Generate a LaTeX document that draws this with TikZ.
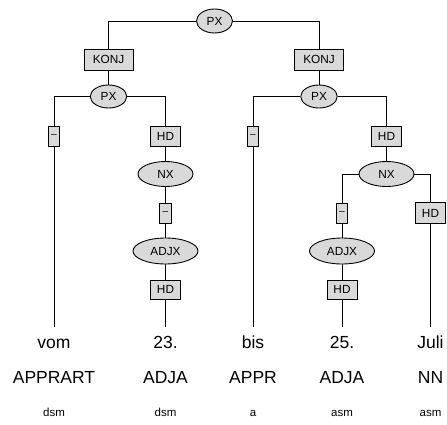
\documentclass[tikz,border=0pt]{standalone}
\usepackage{fontspec}
\setmainfont{Liberation Sans}
\usetikzlibrary{shapes.geometric}
\definecolor{nodegray}{HTML}{D9D9D9}
\begin{document}
\begin{tikzpicture}[x=1pt,y=1pt,
  cat/.style={ellipse,draw,fill=nodegray,line width=0.9pt,inner sep=0pt,font=\fontsize{11.8}{14}\selectfont},
  edgelab/.style={rectangle,draw,fill=nodegray,line width=0.9pt,inner sep=0pt,minimum height=20pt,font=\fontsize{11.8}{14}\selectfont},
  dashlab/.style={edgelab,minimum width=11.5pt,font=\fontsize{10}{12}\selectfont},
  word/.style={anchor=base,inner sep=0pt,font=\fontsize{17.5}{20}\selectfont},
  morph/.style={anchor=base,inner sep=0pt,font=\fontsize{11.5}{13}\selectfont},
  conn/.style={line width=0.9pt}]
\useasboundingbox (0,0) rectangle (447,424);
% categories
\node[cat,minimum width=36pt,minimum height=24pt] (px0) at (214.5,403) {PX};
\node[cat,minimum width=36.5pt,minimum height=23pt] (pxL) at (108.5,327.5) {PX};
\node[cat,minimum width=36.5pt,minimum height=23pt] (pxR) at (319,327.5) {PX};
\node[cat,minimum width=55pt,minimum height=25pt] (nxL) at (165.5,250) {NX};
\node[cat,minimum width=55pt,minimum height=25pt] (nxR) at (386.5,250) {NX};
\node[cat,minimum width=65pt,minimum height=26pt] (adjxL) at (165.5,173) {ADJX};
\node[cat,minimum width=65pt,minimum height=26pt] (adjxR) at (342,173) {ADJX};
% edge labels
\node[edgelab,minimum width=49pt,minimum height=21pt] (konjL) at (108.5,364.5) {KONJ};
\node[edgelab,minimum width=49pt,minimum height=21pt] (konjR) at (319,364.5) {KONJ};
\node[dashlab] (dashL1) at (54,288) {–};
\node[edgelab,minimum width=30pt] (hdL1) at (165.5,288) {HD};
\node[dashlab] (dashR1) at (253,288) {–};
\node[edgelab,minimum width=30pt] (hdR1) at (386.5,288) {HD};
\node[dashlab] (dashL2) at (165.5,211) {–};
\node[edgelab,minimum width=30pt,minimum height=19pt] (hdL2) at (165.5,134.5) {HD};
\node[dashlab] (dashR2) at (342,211) {–};
\node[edgelab,minimum width=30pt,minimum height=21pt] (hdR2) at (430.5,211) {HD};
\node[edgelab,minimum width=30pt,minimum height=19pt] (hdR3) at (342,134.5) {HD};
% terminal line ends
\coordinate (tVom) at (54,97);
\coordinate (t23) at (165.5,97);
\coordinate (tBis) at (253,97);
\coordinate (t25) at (342,97);
\coordinate (tJuli) at (430.5,97);
% words
\node[word] (w1) at (54,76) {vom};
\node[word] (w2) at (165.5,76) {23.};
\node[word] (w3) at (253,76) {bis};
\node[word] (w4) at (342,76) {25.};
\node[word] (w5) at (430.5,76) {Juli};
\node[word] (p1) at (54,41) {APPRART};
\node[word] (p2) at (165.5,41) {ADJA};
\node[word] (p3) at (253,41) {APPR};
\node[word] (p4) at (342,41) {ADJA};
\node[word] (p5) at (430.5,41) {NN};
\node[morph] (m1) at (54,7.5) {dsm};
\node[morph] (m2) at (165.5,7.5) {dsm};
\node[morph] (m3) at (253,7.5) {a};
\node[morph] (m4) at (342,7.5) {asm};
\node[morph] (m5) at (430.5,7.5) {asm};
% connectors
\draw[conn] (px0) -| (konjL);
\draw[conn] (px0) -| (konjR);
\draw[conn] (konjL) -- (pxL);
\draw[conn] (konjR) -- (pxR);
\draw[conn] (pxL) -| (dashL1);
\draw[conn] (pxL) -| (hdL1);
\draw[conn] (dashL1) -- (tVom);
\draw[conn] (hdL1) -- (nxL);
\draw[conn] (nxL) -- (dashL2);
\draw[conn] (dashL2) -- (adjxL);
\draw[conn] (adjxL) -- (hdL2);
\draw[conn] (hdL2) -- (t23);
\draw[conn] (pxR) -| (dashR1);
\draw[conn] (pxR) -| (hdR1);
\draw[conn] (dashR1) -- (tBis);
\draw[conn] (hdR1) -- (nxR);
\draw[conn] (nxR) -| (dashR2);
\draw[conn] (nxR) -| (hdR2);
\draw[conn] (dashR2) -- (adjxR);
\draw[conn] (adjxR) -- (hdR3);
\draw[conn] (hdR3) -- (t25);
\draw[conn] (hdR2) -- (tJuli);
\end{tikzpicture}
\end{document}
